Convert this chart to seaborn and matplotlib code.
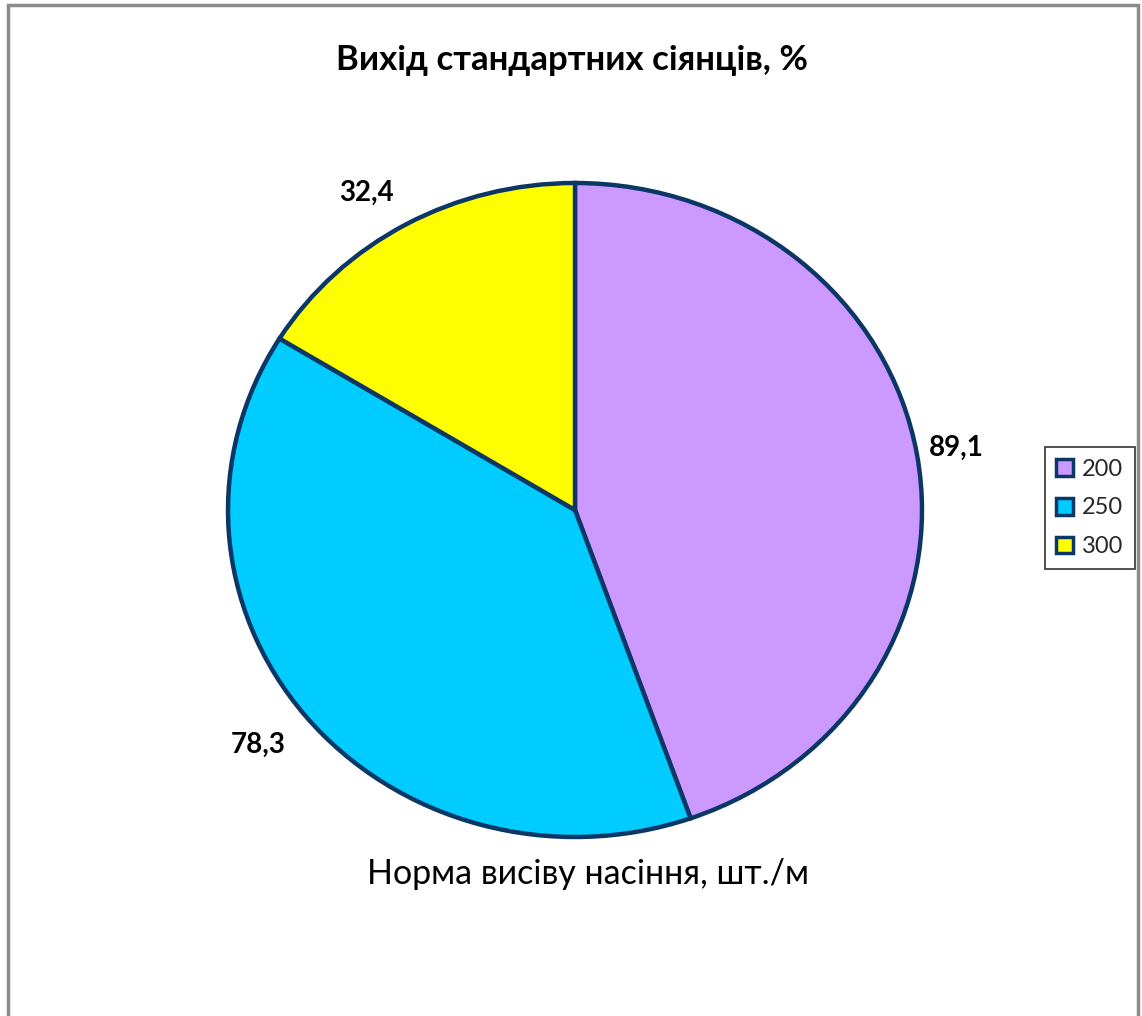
import matplotlib
matplotlib.use("Agg")
import matplotlib.pyplot as plt
import seaborn as sns
import numpy as np
from matplotlib.patches import Rectangle, Patch

categories = ["200", "250", "300"]
values = [89.1, 78.3, 32.4]
value_labels = ["89,1", "78,3", "32,4"]
colors = ["#CC99FF", "#00CCFF", "#FFFF00"]
edge_color = "#0B3766"
title = "Вихід стандартних сіянців, %"
xlabel = "Норма висіву насіння, шт./м"

sns.set_theme(style="white")
plt.rcParams["font.family"] = ["Lato", "DejaVu Sans"]

W, H = 1142, 1016
fig = plt.figure(figsize=(W / 100, H / 100), dpi=100)
fig.patch.set_facecolor("white")

# outer chart frame
fig.add_artist(Rectangle((8 / W, -0.01), (1138 - 8) / W, (1016 - 5) / H + 0.01,
                         transform=fig.transFigure, fill=False,
                         edgecolor="#8C8C8C", linewidth=2.5))

cx, cy, rx, ry = 575, 510, 347, 327
ax = fig.add_axes([(cx - rx) / W, (H - cy - ry) / H, 2 * rx / W, 2 * ry / H])
wedges, texts = ax.pie(values, colors=colors, startangle=90, counterclock=False,
                       labels=value_labels, labeldistance=1.14,
                       wedgeprops=dict(edgecolor=edge_color, linewidth=3.2),
                       textprops=dict(fontsize=20, fontweight="bold", color="black"))
ax.set_aspect("auto")
ax.set_xlim(-1, 1)
ax.set_ylim(-1, 1)
ax.axis("off")

# label placement tweaks (Excel style)
label_pos = [(1.10, 0.19), (-0.913, -0.719), (-0.60, 0.97)]
for t, p in zip(texts, label_pos):
    t.set_position(p)
    t.set_ha("center")
    t.set_va("center")
    t.set_clip_on(False)

fig.text(572 / W, 1 - 60 / H, title, ha="center", va="center",
         fontsize=25, fontweight="bold", color="black")
fig.text(588 / W, 1 - 874 / H, xlabel, ha="center", va="center",
         fontsize=24.5, color="black")

handles = [Patch(facecolor=c, edgecolor=edge_color, linewidth=2.5) for c in colors]
leg = fig.legend(handles, categories, loc="center", bbox_to_anchor=(1090 / W, 1 - 508 / H),
                 frameon=True, fontsize=17, handlelength=0.7, handleheight=0.7,
                 handletextpad=0.4, labelspacing=0.75, borderpad=0.5,
                 fancybox=False, edgecolor="black", borderaxespad=0)
leg.get_frame().set_linewidth(1.2)

fig.savefig("out.png", dpi=100, facecolor="white")
